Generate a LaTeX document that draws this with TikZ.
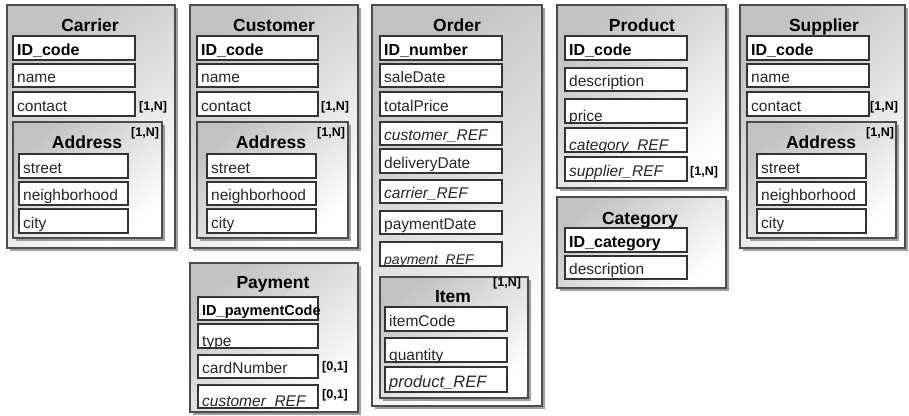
\documentclass[tikz,border=0pt]{standalone}
\usepackage{fontspec}
\setmainfont{Liberation Sans}
\usetikzlibrary{shadows}

\tikzset{
  entbox/.style={draw=black!70, line width=1.1pt,
    top color=black!24, middle color=black!4, bottom color=white, shading angle=40,
    drop shadow={shadow xshift=3pt, shadow yshift=-3pt, fill=black!50, opacity=0.75}},
  fieldbox/.style={draw=black!80, line width=1.3pt, fill=white},
  ftext/.style={anchor=base west, inner sep=0pt, text=black!85,
    font=\fontsize{15.5}{15.5}\selectfont},
  idtext/.style={ftext, font=\fontsize{16}{16}\selectfont\bfseries, text=black},
  reftext/.style={ftext, font=\fontsize{15.5}{15.5}\selectfont\itshape},
  ttl/.style={anchor=base, inner sep=0pt, font=\fontsize{17.5}{17.5}\selectfont\bfseries},
  card/.style={anchor=base west, inner sep=0pt, font=\fontsize{12.5}{12.5}\selectfont\bfseries}
}

% entity / group frame
\newcommand\ent[4]{\path[entbox] (#1,#2) rectangle (#3,#4);}
% attribute box: name, x1, y1, x2, y2, style, text
\newcommand\fld[7]{%
  \draw[fieldbox] (#2,#3) rectangle (#4,#5);
  \node[#6] (#1) at ([xshift=4pt,yshift=5pt]#2,#5) {#7};}
% attribute box whose text sits on the lower edge
\newcommand\lowfld[7]{%
  \draw[fieldbox] (#2,#3) rectangle (#4,#5);
  \node[#6] (#1) at ([xshift=4pt,yshift=1.5pt]#2,#5) {#7};}

\begin{document}
\begin{tikzpicture}[x=1pt, y=-1pt]
\useasboundingbox (0,0) rectangle (909,415);

% ---------------- Carrier ----------------
\ent{7}{5}{175}{248}
\node[ttl] (car-t) at (90,31) {Carrier};
\fld{car-id}{13}{36}{135}{60}{idtext}{ID\_code}
\fld{car-name}{13}{64}{135}{87}{ftext}{name}
\fld{car-contact}{13}{92}{135}{116}{ftext}{contact}
\node[card] (car-cc) at (139,110) {[1,N]};
\ent{13}{122}{162}{238}
\node[ttl] (car-at) at (87,148) {Address};
\node[card] (car-ac) at (131,136) {[1,N]};
\fld{car-street}{19}{154}{128}{178}{ftext}{street}
\fld{car-nb}{19}{182}{128}{205}{ftext}{neighborhood}
\fld{car-city}{19}{209}{128}{233}{ftext}{city}

% ---------------- Customer ----------------
\ent{190}{5}{358}{248}
\node[ttl] (cus-t) at (274,31) {Customer};
\fld{cus-id}{197}{36}{318}{60}{idtext}{ID\_code}
\fld{cus-name}{197}{64}{318}{87}{ftext}{name}
\fld{cus-contact}{197}{92}{318}{116}{ftext}{contact}
\node[card] (cus-cc) at (321,110) {[1,N]};
\ent{197}{122}{348}{238}
\node[ttl] (cus-at) at (271,148) {Address};
\node[card] (cus-ac) at (317,136) {[1,N]};
\fld{cus-street}{207}{154}{316}{178}{ftext}{street}
\fld{cus-nb}{207}{182}{316}{205}{ftext}{neighborhood}
\fld{cus-city}{207}{209}{316}{233}{ftext}{city}

% ---------------- Payment ----------------
\ent{190}{263}{358}{412}
\node[ttl] (pay-t) at (273,288) {Payment};
\fld{pay-id}{198}{297}{318}{320}{idtext, font=\fontsize{14.5}{14.5}\selectfont\bfseries}{ID\_paymentCode}
\lowfld{pay-type}{198}{324}{318}{348}{ftext}{type}
\fld{pay-card}{198}{355}{318}{378}{ftext}{cardNumber}
\node[card] (pay-cc) at (322,370) {[0,1]};
\lowfld{pay-cref}{198}{385}{318}{408}{reftext}{customer\_REF}
\node[card] (pay-rc) at (322,398) {[0,1]};

% ---------------- Order ----------------
\ent{372}{5}{542}{406}
\node[ttl] (ord-t) at (457,31) {Order};
\fld{ord-id}{380}{36}{502}{60}{idtext}{ID\_number}
\fld{ord-sale}{380}{64}{502}{87}{ftext}{saleDate}
\fld{ord-total}{380}{92}{502}{116}{ftext}{totalPrice}
\fld{ord-cref}{380}{122}{502}{145}{reftext}{customer\_REF}
\fld{ord-deliv}{380}{149}{502}{173}{ftext}{deliveryDate}
\fld{ord-carref}{380}{180}{502}{203}{reftext}{carrier\_REF}
\fld{ord-paydate}{380}{211}{502}{234}{ftext}{paymentDate}
\lowfld{ord-payref}{380}{242}{502}{266}{reftext, font=\fontsize{14}{14}\selectfont\itshape}{payment\_REF}
\ent{380}{277}{528}{398}
\node[ttl] (item-t) at (453,302) {Item};
\node[card] (item-c) at (493,286) {[1,N]};
\fld{item-code}{385}{307}{507}{331}{ftext}{itemCode}
\lowfld{item-qty}{385}{338}{507}{362}{ftext}{quantity}
\fld{item-pref}{385}{367}{507}{392}{reftext, font=\fontsize{16.5}{16.5}\selectfont\itshape}{product\_REF}

% ---------------- Product ----------------
\ent{557}{5}{726}{188}
\node[ttl] (prd-t) at (642,31) {Product};
\fld{prd-id}{565}{36}{687}{60}{idtext}{ID\_code}
\fld{prd-desc}{565}{68}{687}{91}{ftext}{description}
\lowfld{prd-price}{565}{99}{687}{123}{ftext}{price}
\lowfld{prd-catref}{565}{128}{687}{152}{reftext}{category\_REF}
\fld{prd-supref}{565}{157}{687}{181}{reftext}{supplier\_REF}
\node[card] (prd-sc) at (690,175) {[1,N]};

% ---------------- Category ----------------
\ent{557}{197}{726}{288}
\node[ttl] (cat-t) at (640,224) {Category};
\fld{cat-id}{565}{228}{687}{252}{idtext}{ID\_category}
\fld{cat-desc}{565}{256}{687}{279}{ftext}{description}

% ---------------- Supplier ----------------
\ent{740}{5}{905}{248}
\node[ttl] (sup-t) at (824,31) {Supplier};
\fld{sup-id}{747}{36}{869}{60}{idtext}{ID\_code}
\fld{sup-name}{747}{64}{869}{87}{ftext}{name}
\fld{sup-contact}{747}{92}{869}{116}{ftext}{contact}
\node[card] (sup-cc) at (870,110) {[1,N]};
\ent{747}{122}{896}{238}
\node[ttl] (sup-at) at (821,148) {Address};
\node[card] (sup-ac) at (866,136) {[1,N]};
\fld{sup-street}{757}{154}{866}{178}{ftext}{street}
\fld{sup-nb}{757}{182}{866}{205}{ftext}{neighborhood}
\fld{sup-city}{757}{209}{866}{233}{ftext}{city}
\end{tikzpicture}
\end{document}
